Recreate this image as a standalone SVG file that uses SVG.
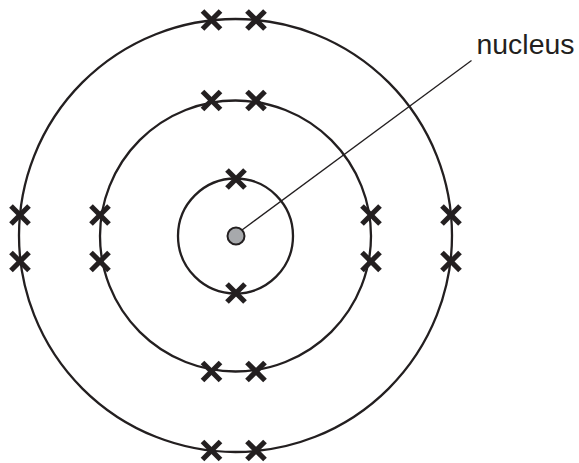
<svg xmlns="http://www.w3.org/2000/svg" width="579" height="463" viewBox="0 0 579 463">
<defs>
<style>
.shell{fill:none;stroke:#231f20;stroke-width:2.3}
.x{stroke:#231f20;stroke-width:5.2;stroke-linecap:butt}
.lbl{font-family:"Liberation Sans",Arial,sans-serif;font-size:27px;fill:#231f20}
</style>
<g id="cross">
<line class="x" x1="-9" y1="-9" x2="9" y2="9"/>
<line class="x" x1="-9" y1="9" x2="9" y2="-9"/>
</g>
</defs>
<rect width="579" height="463" fill="#fff"/>
<g id="shells">
<circle id="shell1" class="shell" cx="235.5" cy="236" r="57.5"/>
<circle id="shell2" class="shell" cx="235.5" cy="236" r="135.5"/>
<circle id="shell3" class="shell" cx="235.5" cy="235.5" r="216.5"/>
</g>
<g id="connectors">
<line x1="242" y1="230" x2="471.5" y2="60.5" stroke="#231f20" stroke-width="1.3"/>
</g>
<g id="nucleus">
<circle cx="236" cy="236" r="8.5" fill="#a7a9ac" stroke="#231f20" stroke-width="2"/>
</g>
<g id="label">
<text class="lbl" x="476.5" y="53.5" textLength="98" lengthAdjust="spacingAndGlyphs">nucleus</text>
</g>
<g id="electrons">
<use href="#cross" x="236" y="179"/>
<use href="#cross" x="236" y="293"/>
<use href="#cross" x="211.5" y="100.5"/>
<use href="#cross" x="256" y="100.5"/>
<use href="#cross" x="211.5" y="371.5"/>
<use href="#cross" x="256" y="371.5"/>
<use href="#cross" x="100" y="215"/>
<use href="#cross" x="100" y="261.5"/>
<use href="#cross" x="371" y="215"/>
<use href="#cross" x="371" y="261.5"/>
<use href="#cross" x="211.5" y="20"/>
<use href="#cross" x="256" y="20"/>
<use href="#cross" x="211.5" y="450.5"/>
<use href="#cross" x="256" y="450.5"/>
<use href="#cross" x="20" y="215"/>
<use href="#cross" x="20" y="261.5"/>
<use href="#cross" x="451" y="215"/>
<use href="#cross" x="451" y="261.5"/>
</g>
</svg>
